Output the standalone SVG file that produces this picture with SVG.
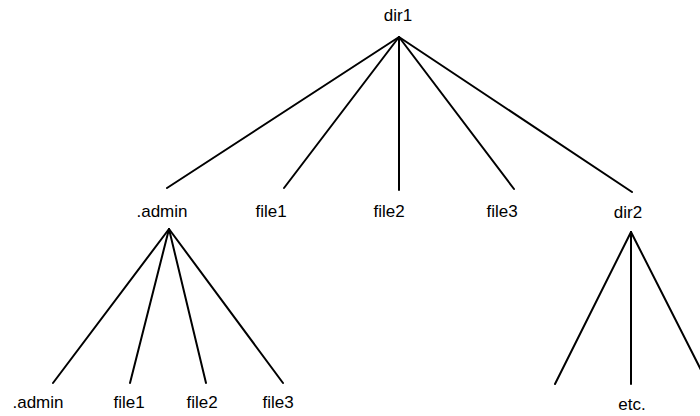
<svg xmlns="http://www.w3.org/2000/svg" width="700" height="416" viewBox="0 0 700 416">
<style>
text{font-family:"Liberation Sans",Arial,sans-serif;font-size:17px;fill:#000;text-anchor:middle}
.c line{stroke:#000;stroke-width:2;stroke-linecap:round}
</style>
<rect width="700" height="416" fill="#fff"/>
<g class="c" id="connectors">
<line x1="399" y1="37" x2="167" y2="188"/>
<line x1="399" y1="37" x2="284" y2="188"/>
<line x1="399" y1="37" x2="399" y2="190"/>
<line x1="399" y1="37" x2="514" y2="189"/>
<line x1="399" y1="37" x2="632" y2="192"/>
<line x1="169" y1="229" x2="53" y2="383"/>
<line x1="169" y1="229" x2="130" y2="383"/>
<line x1="169" y1="229" x2="206" y2="383"/>
<line x1="169" y1="229" x2="283" y2="383"/>
<line x1="631" y1="232" x2="555" y2="384"/>
<line x1="631" y1="232" x2="631" y2="384"/>
<line x1="631" y1="232" x2="702" y2="372"/>
</g>
<g id="dir1"><text x="398" y="21">dir1</text></g>
<g id="admin"><text x="162" y="217">.admin</text></g>
<g id="file1"><text x="271" y="217">file1</text></g>
<g id="file2"><text x="389" y="217">file2</text></g>
<g id="file3"><text x="502" y="217">file3</text></g>
<g id="dir2"><text x="628" y="218">dir2</text></g>
<g id="admin2"><text x="38" y="408">.admin</text></g>
<g id="file1b"><text x="129" y="408">file1</text></g>
<g id="file2b"><text x="202" y="408">file2</text></g>
<g id="file3b"><text x="278" y="408">file3</text></g>
<g id="etc"><text x="632" y="410">etc.</text></g>
</svg>
